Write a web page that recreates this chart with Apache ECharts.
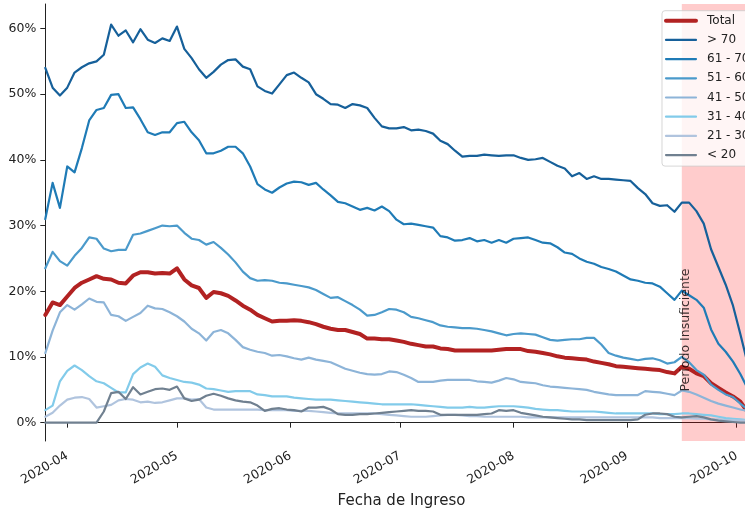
<!DOCTYPE html>
<html><head><meta charset="utf-8">
<script src="https://cdn.jsdelivr.net/npm/echarts@6/dist/echarts.min.js"></script>
<style>html,body{margin:0;padding:0;background:#fff}#c{width:745px;height:512px}</style>
</head><body><div id="c"></div>
<script>
// ---- data ----
const firstDate = '2020-03-26';
const stepDays = 2;
const seriesNames = ['Total', '> 70', '61 - 70', '51 - 60', '41 - 50', '31 - 40', '21 - 30', '< 20'];

const total = [16.4,18.3,17.9,19.2,20.5,21.3,21.8,22.3,21.9,21.8,
  21.3,21.2,22.4,22.9,22.9,22.7,22.8,22.7,23.5,21.8,
  20.9,20.5,19.0,19.9,19.7,19.3,18.6,17.8,17.2,16.4,
  15.9,15.4,15.5,15.5,15.6,15.5,15.3,15.0,14.6,14.3,
  14.1,14.1,13.8,13.5,12.8,12.8,12.7,12.7,12.5,12.3,
  12.0,11.8,11.6,11.6,11.3,11.2,11.0,11.0,11.0,11.0,
  11.0,11.0,11.1,11.2,11.2,11.2,10.9,10.8,10.6,10.4,
  10.1,9.9,9.8,9.7,9.6,9.3,9.1,8.9,8.6,8.5,
  8.4,8.3,8.2,8.1,8.0,7.7,7.5,8.5,8.2,7.5,
  7.1,6.0,5.3,4.6,4.0,3.2,1.6];
const gt70 = [54.0,51.0,49.8,51.0,53.3,54.1,54.7,55.0,56.0,60.6,
  58.9,59.7,57.9,59.9,58.3,57.8,58.5,58.1,60.3,56.9,
  55.5,53.8,52.5,53.4,54.5,55.2,55.3,54.2,53.8,51.2,
  50.5,50.1,51.5,52.9,53.3,52.5,51.8,50.0,49.3,48.5,
  48.4,47.9,48.5,48.3,47.9,46.4,45.1,44.8,44.8,45.0,
  44.5,44.6,44.4,44.0,42.9,42.4,41.4,40.5,40.6,40.6,
  40.8,40.7,40.6,40.7,40.7,40.3,40.0,40.1,40.3,39.7,
  39.1,38.7,37.5,38.0,37.1,37.5,37.1,37.1,37.0,36.9,
  36.8,35.7,34.8,33.4,33.0,33.1,32.1,33.5,33.5,32.2,
  30.3,26.4,23.7,21.0,17.8,13.5,9.0];
const g6170 = [31.0,36.5,32.7,39.0,38.1,41.8,46.0,47.6,47.9,49.9,
  50.0,47.9,48.0,46.2,44.2,43.8,44.2,44.2,45.6,45.8,
  44.2,43.0,41.0,41.0,41.4,42.0,42.0,41.0,39.0,36.3,
  35.5,35.0,35.8,36.4,36.7,36.6,36.2,36.5,35.5,34.6,
  33.6,33.4,32.9,32.4,32.7,32.3,32.9,32.2,30.9,30.2,
  30.3,30.1,29.9,29.7,28.4,28.2,27.7,27.8,28.1,27.6,
  27.8,27.4,27.8,27.4,28.0,28.1,28.2,27.8,27.4,27.3,
  26.7,25.9,25.7,25.0,24.5,24.2,23.7,23.4,23.0,22.4,
  21.8,21.6,21.3,21.2,20.7,19.7,18.7,20.1,19.4,18.7,
  17.5,14.2,12.0,10.8,9.3,7.4,5.2];
const g5160 = [23.5,26.0,24.6,23.9,25.4,26.6,28.2,28.0,26.5,26.1,
  26.3,26.3,28.6,28.8,29.2,29.6,30.0,29.9,30.0,28.9,
  28.0,27.8,27.1,27.5,26.6,25.6,24.4,23.0,22.0,21.6,
  21.7,21.6,21.3,21.2,21.0,20.8,20.6,20.2,19.6,19.0,
  19.1,18.5,17.9,17.2,16.3,16.4,16.8,17.3,17.2,16.8,
  16.1,15.9,15.6,15.3,14.8,14.6,14.5,14.4,14.4,14.3,
  14.1,13.9,13.6,13.3,13.5,13.6,13.5,13.4,13.0,12.6,
  12.5,12.6,12.7,12.7,12.9,12.9,11.9,10.6,10.2,9.9,
  9.7,9.5,9.7,9.8,9.5,9.0,9.2,10.0,9.2,8.0,
  7.3,5.8,5.0,4.3,3.9,2.9,2.0];
const g4150 = [10.6,14.0,16.8,17.9,17.2,18.0,18.9,18.4,18.3,16.4,
  16.2,15.5,16.1,16.7,17.8,17.4,17.3,16.8,16.2,15.4,
  14.3,13.6,12.5,13.8,14.1,13.6,12.6,11.5,11.1,10.8,
  10.6,10.2,10.3,10.1,9.8,9.6,9.9,9.6,9.4,9.2,
  8.7,8.2,7.9,7.6,7.4,7.3,7.4,7.8,7.7,7.3,
  6.8,6.2,6.2,6.2,6.4,6.5,6.5,6.5,6.5,6.3,
  6.2,6.1,6.4,6.8,6.6,6.2,6.1,6.0,5.7,5.5,
  5.4,5.3,5.2,5.1,5.0,4.7,4.5,4.3,4.2,4.2,
  4.2,4.2,4.8,4.7,4.6,4.4,4.2,4.9,4.7,4.3,
  3.8,3.3,2.9,2.6,2.3,2.0,1.8];
const g3140 = [1.9,2.6,6.3,7.9,8.7,8.0,7.1,6.3,6.0,5.3,
  4.6,4.6,7.4,8.4,9.0,8.5,7.2,6.8,6.5,6.2,
  6.1,5.8,5.2,5.1,4.9,4.7,4.8,4.8,4.8,4.3,
  4.2,4.0,4.0,4.0,3.8,3.7,3.6,3.5,3.5,3.5,
  3.4,3.3,3.2,3.1,3.0,2.9,2.8,2.8,2.8,2.8,
  2.8,2.7,2.6,2.5,2.4,2.3,2.3,2.3,2.4,2.3,
  2.3,2.4,2.5,2.5,2.5,2.4,2.3,2.1,2.0,1.9,
  1.9,1.8,1.7,1.7,1.7,1.7,1.6,1.5,1.4,1.4,
  1.4,1.4,1.4,1.4,1.3,1.3,1.3,1.4,1.4,1.3,
  1.2,1.1,0.9,0.7,0.6,0.5,0.4];
const g2130 = [0.9,1.5,2.6,3.5,3.8,3.9,3.6,2.3,2.5,2.7,
  3.4,3.6,3.5,3.1,3.2,3.0,3.1,3.4,3.7,3.7,
  3.5,3.6,2.3,2.0,2.0,2.0,2.0,2.0,2.0,2.0,
  1.9,1.9,1.9,1.9,1.8,1.8,1.8,1.7,1.6,1.5,
  1.4,1.4,1.4,1.4,1.4,1.4,1.3,1.2,1.1,1.0,
  0.9,0.9,0.9,1.0,1.1,1.2,1.2,1.1,1.0,1.0,
  0.9,0.9,0.9,0.9,0.9,0.9,0.8,0.8,0.8,0.8,
  0.8,0.8,0.8,0.8,0.8,0.8,0.8,0.8,0.8,0.8,
  0.8,0.8,0.8,0.8,0.7,0.7,0.7,0.7,0.7,0.6,
  0.6,0.5,0.5,0.4,0.4,0.3,0.3];
const lt20 = [0,0,0,0,0,0,0,0,1.7,4.5,
  4.7,3.6,5.4,4.3,4.7,5.1,5.2,5.0,5.5,3.7,
  3.3,3.5,4.1,4.4,4.1,3.7,3.4,3.2,3.1,2.6,
  1.8,2.1,2.2,2.0,1.9,1.7,2.3,2.3,2.4,2.0,
  1.3,1.2,1.2,1.3,1.3,1.4,1.5,1.6,1.7,1.8,
  1.9,1.8,1.8,1.7,1.2,1.2,1.2,1.2,1.2,1.2,
  1.3,1.4,1.9,1.8,1.9,1.5,1.3,1.1,0.9,0.8,
  0.7,0.6,0.5,0.5,0.4,0.4,0.4,0.4,0.4,0.4,
  0.4,0.5,1.2,1.4,1.4,1.3,0.9,0.8,0.9,1.0,
  0.8,0.5,0.3,0.2,0.1,0.0,0.0];

const monthTicks = ['2020-04-01','2020-05-01','2020-06-01','2020-07-01','2020-08-01','2020-09-01','2020-10-01'];
const yTicks = [0, 10, 20, 30, 40, 50, 60];
const xAxisStart = '2020-03-26T00:00:00Z';
const xAxisEnd = '2020-10-06T18:00:00Z';
const yAxisMin = -2.79, yAxisMax = 63.73;
const insufficientStart = '2020-09-16T00:00:00Z';
const insufficientText = 'Periodo Insuficiente';
const insufficientTextAt = ['2020-09-17T03:30:00Z', 14.1];
const xTitle = 'Fecha de Ingreso';

// ---- build ----
const DAY = 86400000;
const ts = s => Date.parse(s.length === 10 ? s + 'T00:00:00Z' : s);
const t0 = ts(firstDate);
const dates = total.map((_, i) => t0 + i * stepDays * DAY);

const colors = ['#b22222', '#16609a', '#1f7bb6', '#4b9acb', '#8db4d8', '#82cbea', '#b0c4de', '#708090'];
const widths = [4, 2.2, 2.2, 2.2, 2.2, 2.2, 2.2, 2.2];
const allData = [total, gt70, g6170, g5160, g4150, g3140, g2130, lt20];
const FONT = 'DejaVu Sans';

const series = [{
  name: 'bg', type: 'line', data: [], z: 1, silent: true,
  markArea: {
    silent: true,
    itemStyle: { color: 'rgba(255,0,0,0.2)' },
    data: [[{ xAxis: ts(insufficientStart) }, { xAxis: ts(xAxisEnd) }]]
  }
}];
allData.forEach((arr, k) => {
  series.push({
    name: seriesNames[k], type: 'line', z: 3,
    data: arr.map((v, i) => [dates[i], v]),
    showSymbol: false, symbol: 'circle', silent: true,
    lineStyle: { color: colors[k], width: widths[k], join: 'round', cap: 'round' },
    itemStyle: { color: colors[k] }
  });
});
series.push({
  name: 'label', type: 'scatter', z: 4, silent: true, symbolSize: 0,
  data: [[ts(insufficientTextAt[0]), insufficientTextAt[1]]],
  label: { show: true, position: 'inside', rotate: 90, formatter: insufficientText,
    fontFamily: FONT, fontSize: 12.5, color: '#000' }
});

const pad2 = n => (n < 10 ? '0' : '') + n;
const chart = echarts.init(document.getElementById('c'), null, { renderer: 'canvas' });
chart.setOption({
  animation: false,
  backgroundColor: '#fff',
  grid: { left: 45.3, top: 4, width: 712.4, height: 437, containLabel: false, outerBoundsMode: 'none' },
  xAxis: {
    type: 'value', min: ts(xAxisStart), max: ts(xAxisEnd), scale: true,
    name: xTitle, nameLocation: 'middle', nameGap: 51,
    nameTextStyle: { fontFamily: FONT, fontSize: 15, color: '#222' },
    axisLine: { show: true, lineStyle: { color: '#222', width: 1 } },
    axisTick: { show: true, length: 5, lineStyle: { color: '#222' }, customValues: monthTicks.map(ts) },
    axisLabel: {
      customValues: monthTicks.map(ts), rotate: 30, margin: 14,
      fontFamily: FONT, fontSize: 12.5, color: '#222',
      formatter: v => { const d = new Date(v); return d.getUTCFullYear() + '-' + pad2(d.getUTCMonth() + 1); }
    },
    splitLine: { show: false }
  },
  yAxis: {
    type: 'value', min: yAxisMin, max: yAxisMax,
    axisLine: { show: true, lineStyle: { color: '#222', width: 1 } },
    axisTick: { show: true, length: 5, lineStyle: { color: '#222' }, customValues: yTicks },
    axisLabel: { customValues: yTicks, margin: 9, fontFamily: FONT, fontSize: 12.5, color: '#222',
      formatter: v => Math.round(v) + '%' },
    splitLine: { show: false }
  },
  legend: {
    orient: 'vertical', left: 662, top: 10.7,
    padding: [3, 40, 4, 2],
    itemWidth: 30, itemHeight: 14, itemGap: 5.2,
    backgroundColor: 'rgba(255,255,255,0.8)', borderColor: 'rgba(204,204,204,0.8)',
    borderWidth: 1, borderRadius: 3,
    selectedMode: false,
    itemStyle: { opacity: 0 },
    lineStyle: { width: 'inherit' },
    textStyle: { fontFamily: FONT, fontSize: 12, lineHeight: 14, color: '#222', padding: [0, 0, 0, 6] },
    data: seriesNames
  },
  series
});
</script></body></html>
